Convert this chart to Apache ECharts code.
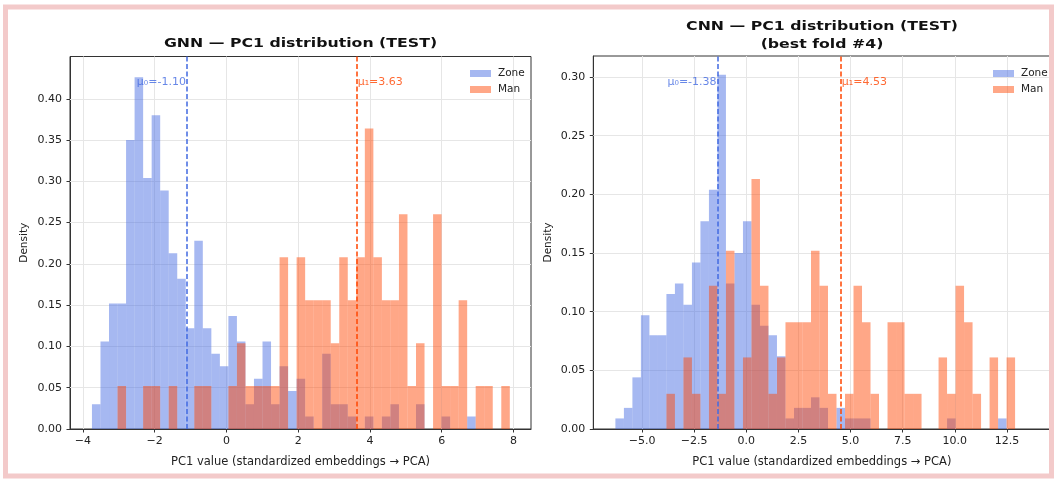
<!DOCTYPE html>
<html><head><meta charset="utf-8">
<script src="https://cdn.jsdelivr.net/npm/echarts@6/dist/echarts.min.js"></script>
<style>html,body{margin:0;padding:0;background:#fff}#c{width:1055px;height:480px}</style>
</head><body><div id="c"></div>
<script>
// ---------- GNN panel data ----------
const gnnBinStart = -3.748;
const gnnBinWidth = 0.2377;
const gnnZone = [0.030,0.106,0.152,0.152,0.350,0.426,0.304,0.380,0.289,0.213,
                 0.182,0.122,0.228,0.122,0.091,0.076,0.137,0.106,0.030,0.061,
                 0.106,0.030,0.076,0.046,0.061,0.015,0,0.091,0.030,0.030,
                 0.015,0,0.015,0,0.015,0.030,0,0,0.030,0,
                 0,0.015,0,0,0.015,0,0,0,0];
const gnnMan  = [0,0,0,0.052,0,0,0.052,0.052,0,0.052,
                 0,0,0.052,0.052,0,0,0.052,0.104,0.052,0.052,
                 0.052,0.052,0.208,0,0.208,0.156,0.156,0.156,0.104,0.208,
                 0.156,0.208,0.364,0.208,0.156,0.156,0.260,0.052,0.104,0,
                 0.260,0.052,0.052,0.156,0,0.052,0.052,0,0.052];
const gnnMu = [-1.10, 3.63];
const gnnXTicks = [-4,-2,0,2,4,6,8];
const gnnYTicks = [0,0.05,0.10,0.15,0.20,0.25,0.30,0.35,0.40];

// ---------- CNN panel data ----------
const cnnBinStart = -6.28;
const cnnBinWidth = 0.4079;
const cnnZone = [0.009,0.018,0.044,0.097,0.080,0.080,0.115,0.124,0.106,0.142,
                 0.177,0.204,0.302,0.124,0.150,0.177,0.106,0.088,0.080,0.062,
                 0.009,0.018,0.018,0.027,0.018,0,0.018,0.009,0.009,0.009,
                 0,0,0,0,0,0,0,0,0,0.009,
                 0,0,0,0,0,0.009,0];
const cnnMan  = [0,0,0,0,0,0,0.030,0,0.061,0.030,
                 0,0.122,0.030,0.152,0,0.061,0.213,0.122,0.030,0.061,
                 0.091,0.091,0.091,0.152,0.122,0.030,0,0.030,0.122,0.091,
                 0.030,0,0.091,0.091,0.030,0.030,0,0,0.061,0.030,
                 0.122,0.091,0.030,0,0.061,0,0.061];
const cnnMu = [-1.38, 4.53];
const cnnXTicks = [-5,-2.5,0,2.5,5,7.5,10,12.5];
const cnnYTicks = [0,0.05,0.10,0.15,0.20,0.25,0.30];

const seriesNames = ['Zone','Man'];
const titles = ['GNN \u2014 PC1 distribution (TEST)', 'CNN \u2014 PC1 distribution (TEST)', '(best fold #4)'];
const xName = 'PC1 value (standardized embeddings \u2192 PCA)';
const yName = 'Density';

// ---------- styling ----------
const FONT = 'DejaVu Sans';
const ZONE_FILL = 'rgba(65,105,225,0.47)';
const MAN_FILL = 'rgba(255,69,0,0.47)';
const ZONE_LINE = '#4169e1';
const MAN_LINE = '#ff4500';
const AXIS_C = '#333';
const GRID_C = '#e6e6e6';
const TXT = '#222';

const panels = [
  {left:70, top:56.5, width:461, height:372.5, xmin:-4.36, xmax:8.49, ymax:0.4512,
   start:gnnBinStart, w:gnnBinWidth, zone:gnnZone, man:gnnMan, mu:gnnMu,
   xt:gnnXTicks, yt:gnnYTicks, xfmt:v=>String(v).replace('-', '\u2212')},
  {left:593.3, top:56, width:457.2, height:373, xmin:-7.34, xmax:14.59, ymax:0.3179,
   start:cnnBinStart, w:cnnBinWidth, zone:cnnZone, man:cnnMan, mu:cnnMu,
   xt:cnnXTicks, yt:cnnYTicks, xfmt:v=>v.toFixed(1).replace('-', '\u2212')}
];

function histSeries(name, p, vals, color, idx) {
  return {
    type:'custom', name, xAxisIndex:idx, yAxisIndex:idx, z:2,
    itemStyle:{color}, clip:true,
    data: vals.map((v,i)=>[p.start+i*p.w, p.start+(i+1)*p.w, v]),
    encode:{x:[0,1], y:2},
    renderItem:(params, api)=>{
      const h = api.value(2);
      if (!h) return null;
      const a = api.coord([api.value(0), h]);
      const b = api.coord([api.value(1), 0]);
      return {type:'rect', shape:{x:a[0], y:a[1], width:b[0]-a[0], height:b[1]-a[1]},
              style:{fill:color}};
    }
  };
}

const grid=[], xAxis=[], yAxis=[], series=[];
panels.forEach((p, idx)=>{
  grid.push({left:p.left, top:p.top, width:p.width, height:p.height, show:true,
             borderColor:AXIS_C, borderWidth:1, backgroundColor:'transparent'});
  xAxis.push({type:'value', gridIndex:idx, min:p.xmin, max:p.xmax,
    axisLine:{show:true, onZero:false, lineStyle:{color:AXIS_C, width:1}},
    axisTick:{show:true, customValues:p.xt, length:3.5, lineStyle:{color:AXIS_C}},
    axisLabel:{customValues:p.xt, formatter:p.xfmt, fontFamily:FONT, fontSize:11, color:TXT, margin:7},
    splitLine:{show:false},
    name:xName, nameLocation:'middle', nameGap:27.5,
    nameTextStyle:{fontFamily:FONT, fontSize:11.5, color:TXT}});
  yAxis.push({type:'value', gridIndex:idx, min:0, max:p.ymax,
    axisLine:{show:true, onZero:false, lineStyle:{color:AXIS_C, width:1}},
    axisTick:{show:true, customValues:p.yt, length:3.5, lineStyle:{color:AXIS_C}},
    axisLabel:{customValues:p.yt, formatter:v=>v.toFixed(2), fontFamily:FONT, fontSize:11, color:TXT, margin:8},
    splitLine:{show:false},
    name:yName, nameLocation:'middle', nameGap:40, nameRotate:90,
    nameTextStyle:{fontFamily:FONT, fontSize:10.5, color:TXT}});
  // grid lines
  series.push({type:'line', xAxisIndex:idx, yAxisIndex:idx, data:[], z:1, silent:true,
    markLine:{silent:true, symbol:'none', z:1, animation:false, label:{show:false},
      lineStyle:{color:GRID_C, width:1, type:'solid'},
      data:[...p.xt.map(v=>({xAxis:v})), ...p.yt.slice(1).map(v=>({yAxis:v}))]}});
  series.push(histSeries(seriesNames[0], p, p.zone, ZONE_FILL, idx));
  series.push(histSeries(seriesNames[1], p, p.man, MAN_FILL, idx));
  // mean lines
  [[p.mu[0], ZONE_LINE, 'left', '\u03bc\u2080='], [p.mu[1], MAN_LINE, 'right', '\u03bc\u2081=']].forEach(m=>{
    series.push({type:'scatter', xAxisIndex:idx, yAxisIndex:idx, z:6, silent:true,
      symbolSize:0, data:[[m[0], p.ymax*0.93]],
      label:{show:true, position:m[2], distance:1, formatter:m[3]+m[0].toFixed(2),
             color:m[1], fontFamily:FONT, fontSize:11},
      markLine:{silent:true, symbol:'none', z:5, animation:false, label:{show:false},
        lineStyle:{color:m[1], width:1.5, type:[5,2.5]}, data:[{xAxis:m[0]}]}});
  });
});

const titleFont = 'bold 12.5px "DejaVu Sans"';
const chart = echarts.init(document.getElementById('c'), null, {renderer:'canvas'});
chart.setOption({
  animation:false,
  backgroundColor:'#fff',
  grid, xAxis, yAxis, series,
  legend:[
    {left:465, top:63, orient:'vertical', itemWidth:21, itemHeight:7, itemGap:5, icon:'rect',
     data:seriesNames, selectedMode:false, textStyle:{fontFamily:FONT, fontSize:10.5, color:TXT, padding:[0,0,0,2]}},
    {left:988, top:63, orient:'vertical', itemWidth:21, itemHeight:7, itemGap:5, icon:'rect',
     data:seriesNames, selectedMode:false, textStyle:{fontFamily:FONT, fontSize:10.5, color:TXT, padding:[0,0,0,2]}}
  ],
  graphic:[
    {type:'rect', silent:true, z:100, shape:{x:5.5, y:7, width:1046, height:469},
     style:{fill:'none', stroke:'#f3caca', lineWidth:5}},
    {type:'text', x:300.5, y:44, scaleX:1.26, style:{text:titles[0], font:titleFont, fill:'#111', align:'center', verticalAlign:'middle'}},
    {type:'text', x:822, y:26.5, scaleX:1.26, style:{text:titles[1], font:titleFont, fill:'#111', align:'center', verticalAlign:'middle'}},
    {type:'text', x:822, y:44.5, scaleX:1.26, style:{text:titles[2], font:titleFont, fill:'#111', align:'center', verticalAlign:'middle'}}
  ]
});
</script></body></html>
